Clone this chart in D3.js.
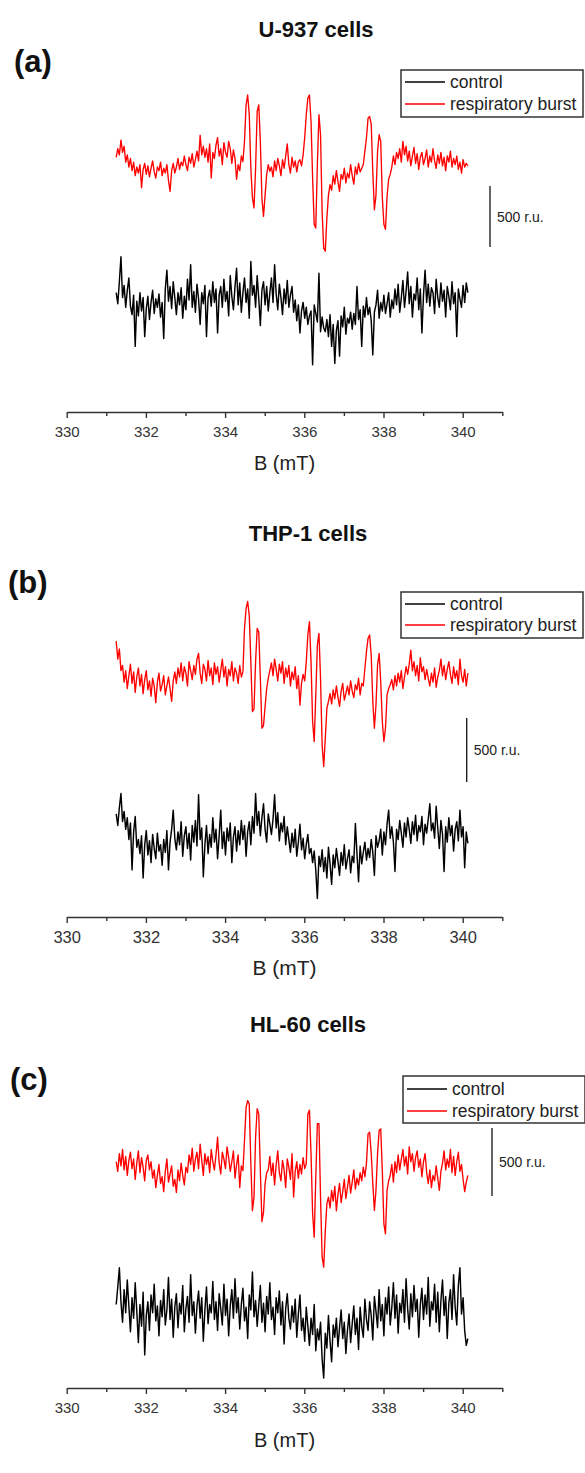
<!DOCTYPE html>
<html>
<head>
<meta charset="utf-8">
<script src="https://cdn.jsdelivr.net/npm/d3@7"></script>
<style>
  body { margin: 0; background: #fff; }
  svg { display: block; }
  text { font-family: "Liberation Sans", Arial, sans-serif; }
</style>
</head>
<body>
<svg id="fig" width="585" height="1473"></svg>
<script>
// ---- data -------------------------------------------------------------
const panelTitles  = ["U-937 cells", "THP-1 cells", "HL-60 cells"];
const panelLetters = ["(a)", "(b)", "(c)"];
const seriesNames  = ["control", "respiratory burst"];
const majorTicks   = [330, 332, 334, 336, 338, 340];
const minorTicks   = [331, 333, 335, 337, 339, 341];
const axisTitle    = "B (mT)";
const scaleBarValue = 500;            // r.u.
const scaleBarLabel = "500 r.u.";
const fieldStart = 331.25;            // mT, first sample
const fieldStep  = 0.04;              // mT between samples
// vertical shift of the respiratory-burst trace above the control trace (r.u.)
const burstOffset = [1150, 1240, 1050];

// spectra, r.u.
const controlU937 = [
  60,-30,150,355,20,120,-60,80,180,-50,
  -120,40,-380,-10,-130,60,-90,20,-300,-70,
  30,-160,-20,80,-110,10,-60,50,-140,-20,
  -315,90,245,-10,110,-70,150,20,-120,60,
  -40,100,-150,30,-80,170,0,290,-60,70,
  -100,130,10,-200,60,-30,120,-300,20,80,
  -50,150,-20,90,-270,40,110,-60,170,-10,
  70,-130,200,30,-80,110,260,-40,140,-100,
  60,180,-20,90,-150,315,40,120,-60,200,
  10,-210,80,150,-40,110,-90,60,180,-20,
  290,50,-80,130,20,-120,90,-30,160,-60,
  40,110,-100,0,-170,-40,-270,-90,-20,-150,
  -60,-200,-130,-90,-530,-40,-110,-180,220,-260,
  -140,-230,-260,-160,-300,-120,-380,-200,-520,-250,
  -170,-460,-130,-220,-60,-280,-150,-190,-100,-240,
  -110,-200,110,-160,-80,-380,-50,-140,20,-120,
  -60,-170,-450,-100,-40,80,-150,-20,-90,40,
  -110,-30,60,-140,0,-70,90,-40,130,-100,
  20,160,-60,70,230,-30,110,-140,50,0,
  180,-80,90,-270,40,245,-20,130,-50,100,
  60,-110,170,20,-60,140,-10,80,-140,110,
  30,-80,150,-30,60,-300,90,10,-60,120,
  -20,140,60
];
const burstU937 = [
  20,90,40,160,60,110,-20,40,-60,10,
  -90,-20,-130,-60,-110,-40,-230,-80,-30,-120,
  -50,-140,-70,-10,-100,-150,-60,-90,-20,-130,
  -70,-110,-40,-170,-260,-90,-30,-110,-60,10,
  -80,-20,-50,30,-40,-90,20,-30,50,-60,
  0,70,-10,200,40,110,20,90,-20,130,
  -150,60,10,120,180,30,90,-40,140,60,
  20,150,90,-30,80,10,-160,-40,-90,30,
  -15,150,450,530,370,-70,-310,-395,-70,395,450,150,-315,-465,-290,-120,-40,-95,
  -60,-140,-10,-90,10,-50,-130,0,-70,30,130,-40,-110,20,-60,-10,-100,-20,0,-50,
  40,180,370,505,530,315,-150,-530,-560,-40,370,205,-425,-725,-750,-480,-290,-205,
  -250,-130,-200,-90,-180,-260,-120,-160,-70,-190,-110,-150,-40,-130,-200,-60,-120,-30,-100,-70,
  -40,70,180,340,355,290,-100,-410,-290,70,205,150,-310,-530,-570,-300,-160,-120,-60,
  30,-40,60,10,90,-20,150,40,110,-10,
  70,-50,30,100,-30,50,-80,20,60,-40,
  10,80,-60,30,-20,90,-10,-70,40,-30,
  60,-50,20,-90,30,-20,70,-60,10,-40,
  30,-80,-20,-110,0,-60,-30,-50
];
const controlTHP1 = [
  180,90,230,340,120,200,60,150,-20,110,
  -257,40,160,-80,-20,-130,10,-320,-60,50,
  -140,-30,-200,20,-90,-170,30,-110,-60,-220,
  -20,-120,50,-257,-40,60,210,-10,-100,40,
  -60,120,-150,10,80,-90,30,-180,90,-40,
  130,-70,330,-20,70,-310,-60,90,-130,20,
  -80,150,-40,60,-170,10,210,-90,40,-140,
  70,-30,110,-200,0,80,-110,50,-60,130,
  -20,90,-150,40,120,-60,160,30,340,90,
  200,10,150,260,60,-40,180,100,20,140,
  330,70,190,-30,110,40,160,-60,80,-20,
  -120,30,-80,60,-150,-40,100,-100,-10,-170,
  -60,20,-130,-90,-200,-110,-260,-480,-150,-230,
  -100,-270,-160,-320,-80,-210,-370,-140,-240,-90,
  -190,-300,-120,-220,-60,-250,-170,-100,-280,-150,
  -200,105,-130,-350,-70,-210,-120,-40,-180,-90,
  -160,-20,-120,-300,10,-80,-30,60,-140,40,
  -60,100,210,-10,80,-40,-270,60,-20,130,
  30,-80,110,0,150,60,-50,120,20,170,
  -30,90,40,160,-60,100,30,140,260,50,
  110,-10,240,70,-90,130,20,-270,80,-40,
  150,10,90,-110,60,120,-30,210,0,80,
  -240,40,-50
];
const burstTHP1 = [
  290,150,230,60,100,-30,60,-80,20,110,
  -40,50,-110,10,80,-60,30,-120,-10,60,
  -90,-20,-140,0,-60,-190,-30,40,-100,-50,
  20,-130,-60,10,-80,-180,-20,50,-40,80,
  10,120,-20,90,40,-60,130,60,-10,100,
  30,150,195,40,-40,110,70,-20,140,20,
  80,-50,120,30,90,-30,60,150,10,90,
  -60,70,20,130,-20,80,40,-40,100,10,
  50,390,545,600,490,130,-260,-240,130,390,360,0,-390,-370,-220,-80,0,60,
  120,20,150,70,-20,110,40,130,-40,80,10,100,-60,50,-10,90,-80,20,-210,-40,30,-20,
  130,340,442,130,-340,-494,-130,260,351,0,-520,-689,-470,-234,-180,
  -120,-200,-90,-160,-60,-150,-220,-100,-40,-170,-120,-60,-130,-20,-100,-150,-50,-90,0,-130,-40,-60,
  78,208,312,338,180,-182,-390,-208,104,195,-26,-338,-494,-390,-130,-80,-50,
  -10,-90,20,-60,40,-30,60,-80,10,90,
  30,110,220,60,130,20,100,-20,160,50,
  90,-10,70,0,-60,40,-30,80,-70,10,
  60,150,20,100,-10,70,130,30,-40,90,
  0,60,-50,150,20,-30,70,-60,40
];
const controlHL60 = [
  40,170,310,60,-90,150,-20,220,30,-160,
  90,-60,200,-10,-240,40,-120,130,-330,-40,
  60,-150,110,-20,190,-80,30,-190,70,-50,
  150,-110,0,240,-70,80,-200,20,120,-130,
  50,-30,180,-160,10,100,-90,260,-40,60,
  -170,30,140,-60,90,-230,0,170,-100,40,
  -20,210,-70,60,-150,120,10,-110,190,-40,
  80,-190,30,150,-60,230,-20,90,-140,40,
  160,-80,20,-210,110,0,280,-50,70,-120,
  30,180,-90,50,-160,100,-30,200,-70,20,
  -180,90,-20,140,-110,60,-250,10,120,-60,
  -140,30,-90,80,-200,-30,110,-150,-60,-230,
  20,-120,-260,-60,-180,40,-300,-140,-220,-90,
  -360,-500,-170,-280,-40,-230,-380,-110,-200,-60,
  -270,-130,0,-210,-90,-320,-150,-30,-240,-100,
  30,-180,-60,-290,20,-120,-200,80,-70,-150,
  60,-40,-220,100,-10,-130,150,-80,40,-190,
  90,-30,170,-110,20,200,-60,110,-170,50,
  -20,150,-90,230,10,-140,120,-50,180,-10,
  80,-200,40,160,-70,110,-30,240,-120,60,
  0,190,-90,130,-160,70,220,-40,100,-210,
  50,150,-70,260,20,-110,180,310,-30,90,
  -150,-260,-210
];
const burstHL60 = [
  40,-30,100,10,130,-20,80,-60,50,110,
  -10,60,-90,30,120,-40,70,0,-100,50,
  90,-20,40,-80,-20,-150,-60,20,-120,-70,
  -180,-30,60,-110,-50,10,-140,-90,-185,-20,
  -100,30,-60,-130,0,-40,90,20,140,-30,
  60,110,-10,170,50,-60,100,20,80,-40,
  130,40,-20,90,220,30,-50,110,60,-10,
  150,70,-30,40,120,-80,20,90,-150,10,
  -25,196,440,490,465,25,-320,-220,220,430,390,-25,-400,-330,-120,-40,-20,
  80,-60,30,-130,20,120,-40,-100,50,-20,-150,60,0,-90,100,-220,-30,40,-80,20,-50,70,-10,
  25,390,420,100,-340,-515,-75,320,320,-220,-660,-735,-470,-270,-220,
  -300,-170,-250,-140,-320,-200,-120,-260,-180,-90,-230,-150,-60,-190,-110,-20,-160,-80,-130,-40,-100,0,-70,30,
  245,257,100,-120,-318,-170,100,270,282,-25,-416,-490,-170,-100,
  -60,20,-110,40,-40,90,-20,60,130,10,
  80,-50,150,40,100,-30,70,120,0,60,
  -70,40,100,-40,-120,-20,-150,-60,-100,10,
  -80,-170,-30,30,120,-20,60,0,130,-40,
  80,-60,40,110,-30,20,-90,-180,-110,-60
];

const controlSeries = [controlU937, controlTHP1, controlHL60];
const burstSeries   = [burstU937, burstTHP1, burstHL60];

// ---- layout (pixels) --------------------------------------------------
const layout = [
  { titleX: 316, titleY: 37,   letterX: 14, letterY: 72,
    legX: 401, legY: 70,   legW: 182, legH: 47, rowA: 82,   rowB: 104,
    zeroY: 300,  barPx: 61, barX: 490,   barBottom: 247,
    axisY: 412,  tickFont: 15, labelFont: 20, tickPad: 8, labelY: 470 },
  { titleX: 308, titleY: 541,  letterX: 8,  letterY: 593,
    legX: 401, legY: 592,  legW: 182, legH: 46, rowA: 604,  rowB: 625,
    zeroY: 837,  barPx: 64, barX: 466.7, barBottom: 782,
    axisY: 917,  tickFont: 16.5, labelFont: 21, tickPad: 8, labelY: 975 },
  { titleX: 308, titleY: 1032, letterX: 10, letterY: 1090,
    legX: 403, legY: 1076, legW: 182, legH: 47, rowA: 1089, rowB: 1111,
    zeroY: 1310, barPx: 68, barX: 492,   barBottom: 1196,
    axisY: 1388, tickFont: 15, labelFont: 20, tickPad: 8, labelY: 1447 }
];

const svg = d3.select("#fig");
const x = d3.scaleLinear().domain([330, 341]).range([66.7, 502.3]);

panelTitles.forEach((title, p) => {
  const L = layout[p];
  const g = svg.append("g");

  // vertical scale: r.u. -> px, control trace sits at zero
  const y = d3.scaleLinear().domain([0, scaleBarValue]).range([L.zeroY, L.zeroY - L.barPx]);

  const line = d3.line()
    .x((d, i) => x(fieldStart + i * fieldStep))
    .y(d => y(d));

  g.append("text")
    .attr("x", L.titleX).attr("y", L.titleY)
    .attr("text-anchor", "middle")
    .attr("font-size", 22).attr("font-weight", "bold")
    .attr("fill", "#111")
    .text(title);

  g.append("text")
    .attr("x", L.letterX).attr("y", L.letterY)
    .attr("font-size", 31).attr("font-weight", "bold")
    .attr("fill", "#111")
    .text(panelLetters[p]);

  // control spectrum
  g.append("path")
    .datum(controlSeries[p])
    .attr("fill", "none").attr("stroke", "#000")
    .attr("stroke-width", 1.45).attr("stroke-linejoin", "round")
    .attr("d", line);

  // respiratory-burst spectrum, shifted upward
  g.append("path")
    .datum(burstSeries[p].map(v => v + burstOffset[p]))
    .attr("fill", "none").attr("stroke", "#ff0000")
    .attr("stroke-width", 1.35).attr("stroke-linejoin", "round")
    .attr("d", line);

  // intensity scale bar
  const barLen = y(0) - y(scaleBarValue);
  g.append("line")
    .attr("x1", L.barX).attr("x2", L.barX)
    .attr("y1", L.barBottom).attr("y2", L.barBottom - barLen)
    .attr("stroke", "#111").attr("stroke-width", 1.3);
  g.append("text")
    .attr("x", L.barX + 7).attr("y", L.barBottom - barLen / 2 + 5)
    .attr("font-size", 14).attr("fill", "#222")
    .text(scaleBarLabel);

  // field axis: labelled even ticks plus short odd ticks
  const axisG = g.append("g").attr("transform", `translate(0,${L.axisY})`);
  axisG.call(d3.axisBottom(x).tickValues(majorTicks).tickSize(6).tickSizeOuter(0)
    .tickPadding(L.tickPad).tickFormat(d3.format("d")));
  const minorG = g.append("g").attr("transform", `translate(0,${L.axisY})`);
  minorG.call(d3.axisBottom(x).tickValues(minorTicks).tickSize(4).tickSizeOuter(0).tickFormat(""));
  minorG.select(".domain").remove();
  [axisG, minorG].forEach(a => {
    a.selectAll("path, line").attr("stroke", "#333").attr("stroke-width", 1.4);
  });
  axisG.selectAll("text")
    .attr("font-family", "'Liberation Sans', Arial, sans-serif")
    .attr("font-size", L.tickFont).attr("fill", "#333");

  g.append("text")
    .attr("x", x(335.5)).attr("y", L.labelY)
    .attr("text-anchor", "middle")
    .attr("font-size", L.labelFont).attr("fill", "#222")
    .text(axisTitle);

  // legend
  const leg = g.append("g");
  leg.append("rect")
    .attr("x", L.legX).attr("y", L.legY)
    .attr("width", L.legW).attr("height", L.legH)
    .attr("fill", "#fff").attr("stroke", "#333").attr("stroke-width", 1.5);
  [[L.rowA, "#000"], [L.rowB, "#ff0000"]].forEach(([ry, col], k) => {
    leg.append("line")
      .attr("x1", L.legX + 4).attr("x2", L.legX + 44)
      .attr("y1", ry).attr("y2", ry)
      .attr("stroke", col).attr("stroke-width", 1.3);
    leg.append("text")
      .attr("x", L.legX + 49).attr("y", ry + 6)
      .attr("font-size", 17.5).attr("fill", "#222")
      .text(seriesNames[k]);
  });
});
</script>
</body>
</html>
